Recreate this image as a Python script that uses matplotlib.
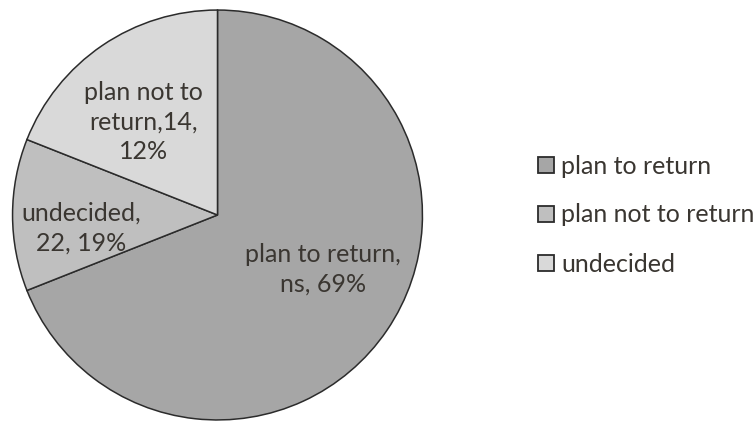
import matplotlib
matplotlib.use("Agg")
import matplotlib.pyplot as plt

categories = ["plan to return", "plan not to return", "undecided"]
percentages = [69, 12, 19]
label_texts = ["plan to return,\nns, 69%", "plan not to\nreturn,14,\n12%", "undecided,\n22, 19%"]
colors = ["#A6A6A6", "#BFBFBF", "#D9D9D9"]
text_color = "#3a3631"

W, H = 755, 423
fig = plt.figure(figsize=(W / 100, H / 100), dpi=100)
plt.rcParams["font.family"] = ["Lato", "DejaVu Sans"]

cx, cy, r = 217.5, 215.0, 207.0
ax = fig.add_axes([(cx - r) / W, (H - cy - r) / H, 2 * r / W, 2 * r / H])

wedges, _ = ax.pie(
    percentages,
    colors=colors,
    startangle=90,
    counterclock=False,
    radius=1.0,
    wedgeprops=dict(edgecolor="#2b2b2b", linewidth=1.1),
)
ax.set_xlim(-1.01, 1.01)
ax.set_ylim(-1.01, 1.01)
ax.set_aspect("equal")
ax.axis("off")


def to_data(px, py):
    return (px - cx) / r, (cy - py) / r


# data labels, placed by hand inside the pie
label_pos = [(324, 270), (143, 121), (80, 228)]
for txt, (px, py) in zip(label_texts, label_pos):
    x, y = to_data(px, py)
    ax.text(x, y, txt, ha="center", va="center", fontsize=18,
            color=text_color, linespacing=1.36)

leg = fig.legend(
    wedges, categories,
    loc="center left",
    bbox_to_anchor=(538 / W, 1 - 215 / H),
    frameon=False,
    fontsize=18,
    handlelength=0.62,
    handleheight=0.62,
    handletextpad=0.3,
    labelspacing=1.04,
    borderpad=0,
    borderaxespad=0,
    labelcolor=text_color,
)
for h in leg.legend_handles:
    h.set_linewidth(1.3)

fig.savefig("out.png", dpi=100)
